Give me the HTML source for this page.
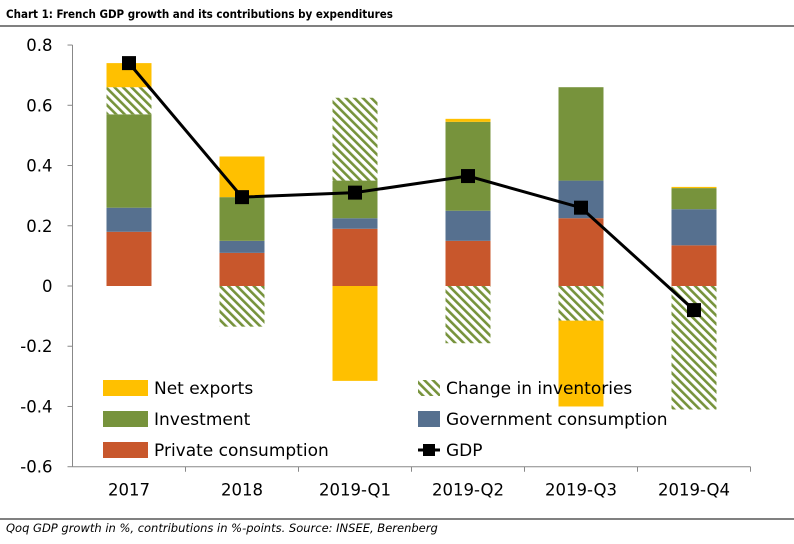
<!DOCTYPE html>
<html><head><meta charset="utf-8"><style>
body{margin:0;background:#fff;}
svg{display:block;font-family:"DejaVu Sans","Liberation Sans",sans-serif;}
</style></head><body>
<svg width="794" height="544" viewBox="0 0 794 544">
<defs>
<pattern id="hatch" patternUnits="userSpaceOnUse" width="6" height="6" patternTransform="rotate(-45)">
<rect width="6" height="6" fill="#fff"/><rect width="2.6" height="6" fill="#77933C"/>
</pattern>
</defs>
<text x="6" y="18" font-size="11.5" font-weight="bold" font-family="DejaVu Sans Condensed, DejaVu Sans, sans-serif">Chart 1: French GDP growth and its contributions by expenditures</text>
<line x1="0" y1="26" x2="794" y2="26" stroke="#000"/>
<line x1="0" y1="519" x2="794" y2="519" stroke="#000"/>
<text x="6" y="532" font-size="11.5" font-style="italic">Qoq GDP growth in %, contributions in %-points. Source: INSEE, Berenberg</text>
<g id="axes"></g><g id="bars"></g><g id="line"></g>
<g id="legend"></g>
</svg>
<script>
const categories=["2017","2018","2019-Q1","2019-Q2","2019-Q3","2019-Q4"];
const privateCons=[0.18,0.11,0.19,0.15,0.225,0.135];
const govCons=[0.08,0.04,0.035,0.10,0.125,0.12];
const investment=[0.31,0.145,0.125,0.295,0.31,0.07];
const inventories=[0.09,-0.135,0.275,-0.19,-0.115,-0.41];
const netExports=[0.08,0.135,-0.315,0.01,-0.285,0.004];
const gdp=[0.74,0.295,0.31,0.365,0.26,-0.08];
const yTicks=[0.8,0.6,0.4,0.2,0,-0.2,-0.4,-0.6];
const yTickLabels=["0.8","0.6","0.4","0.2","0","-0.2","-0.4","-0.6"];
const NS="http://www.w3.org/2000/svg";
const x0=72.5,step=113,y0=286,ppu=301.2,bw=45;
const yS=v=>y0-v*ppu;
const xC=i=>x0+step*(i+0.5);
function mk(tag,attrs,parent){const e=document.createElementNS(NS,tag);for(const k in attrs)e.setAttribute(k,attrs[k]);parent.appendChild(e);return e;}
const axes=document.getElementById('axes');
let a=mk('line',{x1:x0,y1:yS(0.8),x2:x0,y2:yS(-0.6),stroke:'#888'},axes);


yTicks.forEach((t,i)=>{
 const tk=mk('line',{x1:x0-5,y1:yS(t),x2:x0,y2:yS(t),stroke:'#888'},axes);
 
 
 const tx=mk('text',{x:x0-20,y:yS(t)+6,'font-size':16.5,'text-anchor':'end'},axes);tx.textContent=yTickLabels[i];
 
 
});
let xa=mk('line',{x1:x0,y1:yS(-0.6),x2:x0+step*6,y2:yS(-0.6),stroke:'#888'},axes);


categories.forEach((c,i)=>{
 const tk=mk('line',{x1:x0+step*(i+1),y1:yS(-0.6),x2:x0+step*(i+1),y2:yS(-0.6)+5,stroke:'#888'},axes);
 
 
 const tx=mk('text',{x:xC(i),y:yS(-0.6)+29,'font-size':16.5,'text-anchor':'middle'},axes);tx.textContent=c;
 
 
});
const series=[[privateCons,'#C8572C','private-consumption'],[govCons,'#56708F','government-consumption'],[investment,'#77933C','investment'],[inventories,'url(#hatch)','change-in-inventories'],[netExports,'#FFC000','net-exports']];
const bars=document.getElementById('bars');
categories.forEach((c,i)=>{
 let pos=0,neg=0;
 series.forEach(([arr,col,name])=>{
  const v=arr[i];let top,bot;
  if(v>=0){bot=pos;top=pos+v;pos=top;}else{top=neg;bot=neg+v;neg=bot;}
  const r=mk('rect',{x:xC(i)-bw/2,y:yS(top),width:bw,height:Math.max(0,yS(bot)-yS(top)),fill:col},bars);
  
  
 });
});
const lg=document.getElementById('line');
const pl=mk('polyline',{points:gdp.map((v,i)=>xC(i)+','+yS(v)).join(' '),fill:'none',stroke:'#000','stroke-width':3},lg);


gdp.forEach((v,i)=>{
 const m=mk('rect',{x:xC(i)-7,y:yS(v)-7,width:14,height:14,fill:'#000'},lg);
 
 
});
const L=document.getElementById('legend');
const items=[[103,388,'#FFC000','Net exports','rect'],[418,388,'url(#hatch)','Change in inventories','rect'],[103,419,'#77933C','Investment','rect'],[418,419,'#56708F','Government consumption','rect'],[103,450,'#C8572C','Private consumption','rect'],[418,450,'#000','GDP','line']];
items.forEach(([x,y,col,label,kind])=>{
 const g=mk('g',{},L);
 
 
 if(kind==='rect'){mk('rect',{x:x,y:y-8,width:x>400?22:45,height:16,fill:col},g);}
 else{mk('line',{x1:x,y1:y,x2:x+22,y2:y,stroke:'#000','stroke-width':3},g);mk('rect',{x:x+5,y:y-6,width:12,height:12,fill:'#000'},g);}
 const t=mk('text',{x:x>400?x+28:x+51,y:y+6,'font-size':17},g);t.textContent=label;
});
</script>
</body></html>
